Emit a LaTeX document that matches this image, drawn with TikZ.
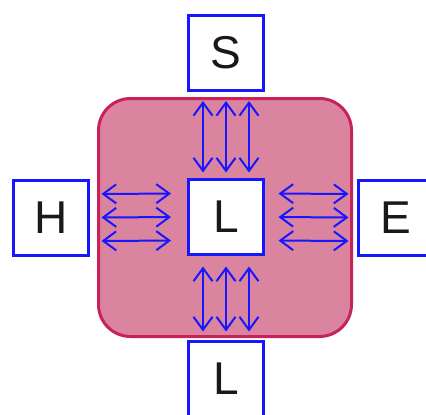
\documentclass[tikz,border=0pt]{standalone}
\usepackage{fontspec}
\setmainfont{Liberation Sans}
\usetikzlibrary{arrows.meta}
\definecolor{boxblue}{RGB}{22,22,255}
\definecolor{zonefill}{RGB}{219,132,160}
\definecolor{zoneedge}{RGB}{200,34,90}
\definecolor{labelink}{RGB}{25,25,25}
\tikzset{
  unitbox/.style={draw=boxblue, fill=white, line width=3pt,
    minimum width=75pt, minimum height=75pt, inner sep=0pt,
    text=labelink, font=\fontsize{46}{46}\selectfont},
  link/.style={draw=boxblue, line width=2pt,
    {Straight Barb[length=13pt,width=19pt]}-{Straight Barb[length=13pt,width=19pt]}},
  zone/.style={draw=zoneedge, fill=zonefill, line width=3pt, rounded corners=32pt}
}
\begin{document}
\begin{tikzpicture}[x=1pt,y=-1pt]
  \useasboundingbox (0,0) rectangle (426,415);
  \clip (0,0) rectangle (426,415);
  % shaded region around the central unit
  \draw[zone] (98.5,98.5) rectangle (351.5,336.5);
  % units
  \node[unitbox] (S)  at (226,53)    {S};
  \node[unitbox] (Lc) at (226,217)   {L};
  \node[unitbox] (H)  at (51,217.5)  {H};
  \node[unitbox] (E)  at (396,217.5) {E};
  \node[unitbox] (Lb) at (226,379)   {L};
  % vertical exchanges
  \foreach \dx in {-23,0,23}{
    \draw[link, shorten <=9pt, shorten >=5.5pt] ([xshift=\dx pt]S.south) -- ([xshift=\dx pt]Lc.north);
    \draw[link, shorten <=10.5pt, shorten >=8.5pt] ([xshift=\dx pt]Lc.south) -- ([xshift=\dx pt]Lb.north);
  }
  % horizontal exchanges
  \foreach \dy in {-23.5,0,23.5}{
    \draw[link, shorten <=11.5pt, shorten >=16pt] ([yshift=\dy pt]H.east) -- ([yshift=\dy pt]Lc.west);
    \draw[link, shorten <=13.5pt, shorten >=8.5pt] ([yshift=\dy pt]Lc.east) -- ([yshift=\dy pt]E.west);
  }
\end{tikzpicture}
\end{document}
